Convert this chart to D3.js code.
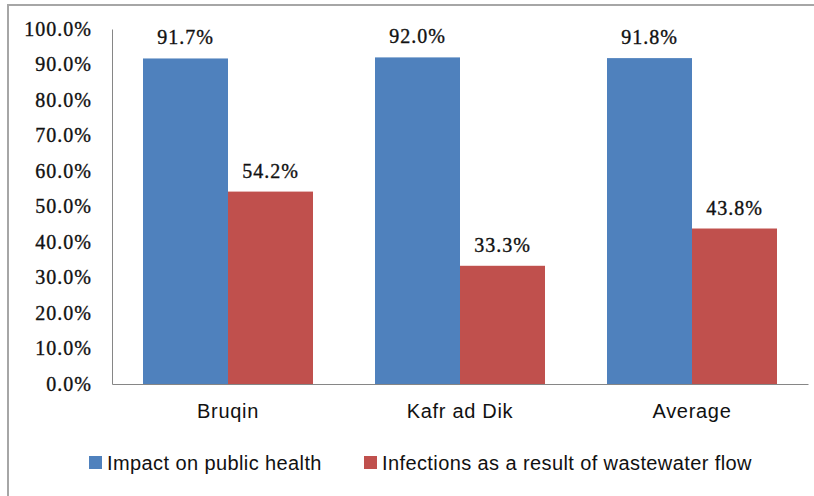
<!DOCTYPE html>
<html>
<head>
<meta charset="utf-8">
<script src="https://cdn.jsdelivr.net/npm/d3@7"></script>
<style>
body { margin: 0; background: #fff; }
</style>
</head>
<body>
<div id="chart"></div>
<script>
// data
var categories = ["Bruqin", "Kafr ad Dik", "Average"];
var seriesNames = ["Impact on public health", "Infections as a result of wastewater flow"];
var healthValues = [91.7, 92.0, 91.8];
var infectionValues = [54.2, 33.3, 43.8];
var yTicks = [0, 10, 20, 30, 40, 50, 60, 70, 80, 90, 100];
var colors = ["#4f81bd", "#c0504d"];

var svgWidth = 814;
var svgHeight = 496;
var margin = { top: 29, right: 6, bottom: 112, left: 112 };
var width = svgWidth - margin.left - margin.right;
var height = svgHeight - margin.top - margin.bottom;

var svg = d3.select("#chart")
    .append("svg")
    .attr("width", svgWidth)
    .attr("height", svgHeight);

// outer frame
svg.append("rect")
    .attr("x", 8).attr("y", 5)
    .attr("width", 830).attr("height", 520)
    .attr("fill", "none")
    .attr("stroke", "#a6a6a6")
    .attr("stroke-width", 2);

var chartGroup = svg.append("g")
    .attr("transform", "translate(" + margin.left + "," + margin.top + ")");

var xScale = d3.scaleBand().domain(categories).range([0, width]).paddingInner(0).paddingOuter(0);
var xSub = d3.scaleBand().domain([0, 1]).range([31, xScale.bandwidth() - 31]);
var yScale = d3.scaleLinear().domain([0, 100]).range([height, 0]);

// serif labels look heavy in the original
function serifText(sel) {
    sel.attr("font-family", "Liberation Serif, serif")
        .attr("font-size", 20)
        .attr("letter-spacing", 1)
        .attr("fill", "#111")
        .attr("stroke", "#111")
        .attr("stroke-width", 0.35);
}

// y axis labels
var leftAxis = d3.axisLeft(yScale).tickValues(yTicks).tickSize(0).tickPadding(20)
    .tickFormat(d => d.toFixed(1) + "%");
var yAxis = chartGroup.append("g").call(leftAxis);
yAxis.select(".domain").attr("stroke", "#868686");
yAxis.selectAll("text").call(serifText);

var rows = categories.map((c, i) => ({ cat: c, vals: [healthValues[i], infectionValues[i]] }));

var groups = chartGroup.selectAll(".grp")
    .data(rows)
    .enter()
    .append("g")
    .attr("transform", d => "translate(" + xScale(d.cat) + ",0)");

groups.selectAll("rect")
    .data(d => d.vals.map((v, j) => ({ v: v, j: j })))
    .enter()
    .append("rect")
    .attr("x", d => xSub(d.j))
    .attr("y", d => yScale(d.v))
    .attr("width", xSub.bandwidth())
    .attr("height", d => height - yScale(d.v))
    .attr("fill", d => colors[d.j]);

groups.selectAll(".lbl")
    .data(d => d.vals.map((v, j) => ({ v: v, j: j })))
    .enter()
    .append("text")
    .attr("x", d => xSub(d.j) + xSub.bandwidth() / 2)
    .attr("y", d => yScale(d.v) - 14)
    .attr("text-anchor", "middle")
    .call(serifText)
    .text(d => d.v.toFixed(1) + "%");

// x axis
var bottomAxis = d3.axisBottom(xScale).tickSize(0).tickPadding(20);
var xAxis = chartGroup.append("g")
    .attr("transform", "translate(0," + height + ")")
    .call(bottomAxis);
xAxis.select(".domain").attr("stroke", "#868686");
xAxis.selectAll("text")
    .attr("font-family", "Liberation Sans, sans-serif")
    .attr("font-size", 20)
    .attr("letter-spacing", 0.7)
    .attr("fill", "#111");

// legend
var legendX = [89, 364];
var legend = svg.selectAll(".leg")
    .data(seriesNames)
    .enter()
    .append("g")
    .attr("transform", (d, i) => "translate(" + legendX[i] + ",456)");
legend.append("rect")
    .attr("width", 13).attr("height", 13)
    .attr("fill", (d, i) => colors[i]);
legend.append("text")
    .attr("x", 18).attr("y", 14)
    .attr("font-family", "Liberation Sans, sans-serif")
    .attr("font-size", 20)
    .attr("letter-spacing", 0.4)
    .attr("fill", "#111")
    .text(d => d);
</script>
</body>
</html>
